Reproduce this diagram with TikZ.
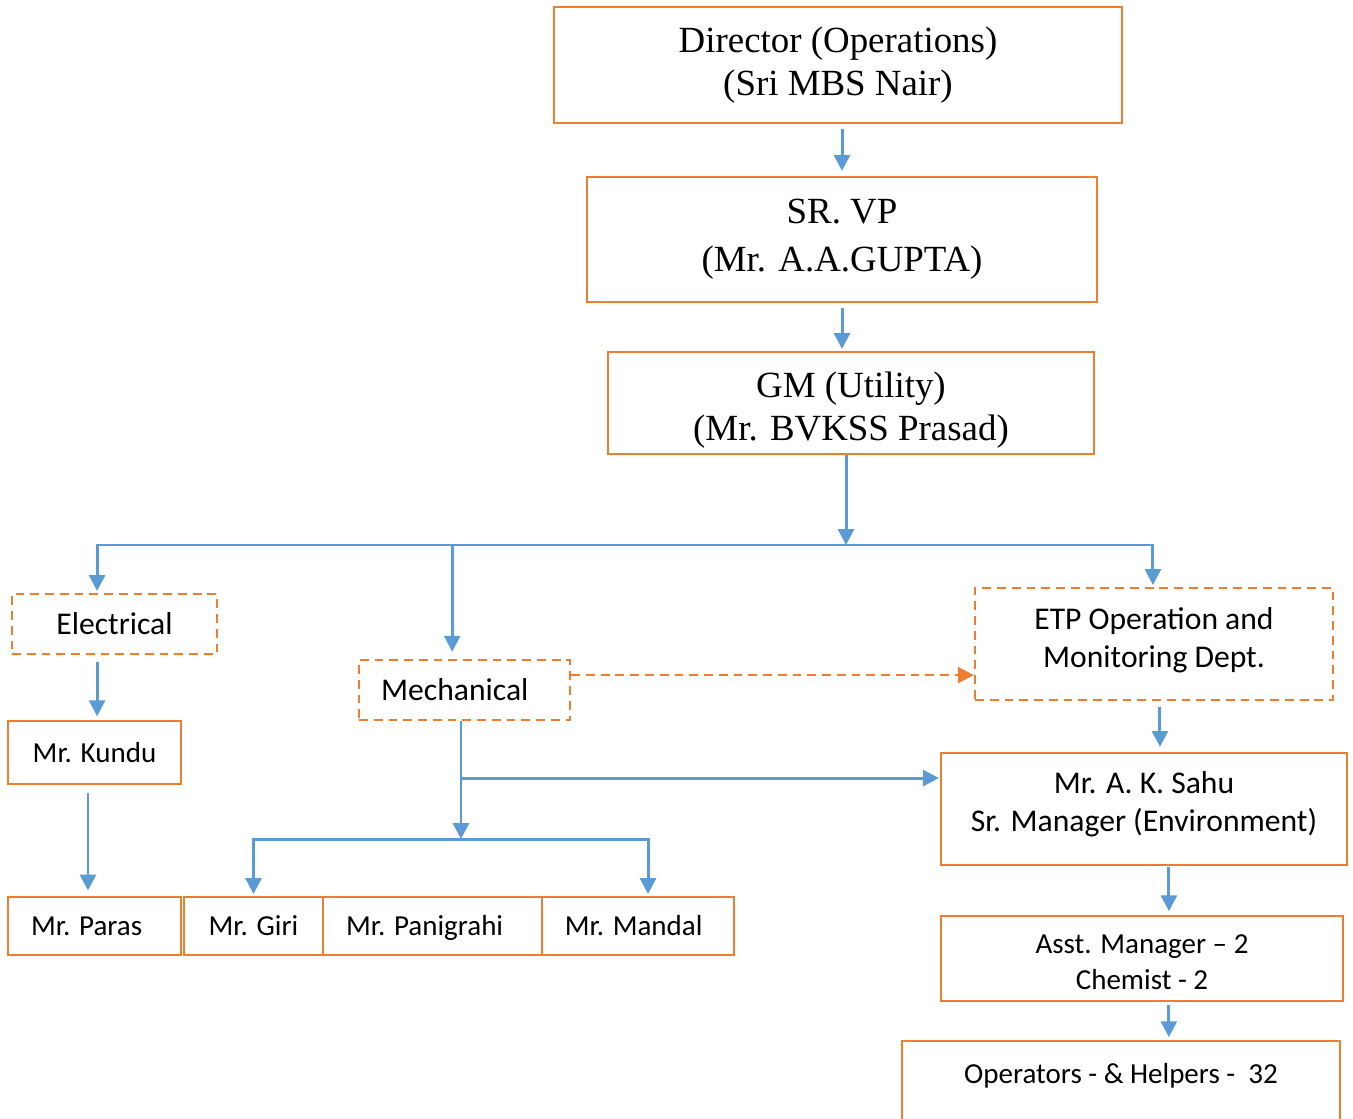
\documentclass[tikz,border=0pt]{standalone}
\usepackage{fontspec}
\setmainfont{Liberation Serif}
\newfontfamily\calibri{Carlito}
\usepackage{tikz}
\usetikzlibrary{arrows.meta}
\definecolor{boxorange}{HTML}{ED7D31}
\definecolor{lineblue}{HTML}{5B9BD5}
% move a block of lines up or down inside its box
\newcommand\nudge[2]{\raisebox{#1}[\height][\depth]{\begin{tabular}{@{}c@{}}#2\end{tabular}}}
\tikzset{
	box/.style={draw=boxorange, line width=1.4pt, rectangle, align=center, inner sep=2pt},
	dbox/.style={box, dash pattern=on 5pt off 3.4pt},
	serifbig/.style={font={\fontsize{21}{24.4}\selectfont}},
	calbig/.style={font={\calibri\fontsize{18}{21.7}\selectfont}},
	calsmall/.style={font={\calibri\fontsize{16.5}{20.4}\selectfont}},
	namebox/.style={box, calsmall, text height=13pt, text depth=2pt},
	arr/.style={draw=lineblue, line width=1.7pt, -{Triangle[length=9pt, width=9pt]}},
	darr/.style={draw=boxorange, line width=1.4pt, dash pattern=on 5pt off 3.4pt, -{Triangle[length=9pt, width=9pt]}}
}

\begin{document}
\begin{tikzpicture}[x=0.02cm, y=-0.02cm]
		%%%%% START %%%%%
		\useasboundingbox (0, 0) rectangle (1353, 1119);
		\clip (0, 0) rectangle (1353, 1119);
		
		\node[box, serifbig, minimum width=11.36cm, minimum height=2.32cm] (dir) at (838, 65) {Director (Operations)\\(Sri MBS Nair)};
		\node[box, font={\fontsize{21}{27.2}\selectfont}, minimum width=10.2cm, minimum height=2.5cm] (vp) at (842, 239.5) {SR. VP\\(Mr. A.A.GUPTA)};
		\node[box, serifbig, minimum width=9.72cm, minimum height=2.04cm] (gm) at (851, 403) {\nudge{-4pt}{GM (Utility)\\(Mr. BVKSS Prasad)}};
		
		\node[dbox, calbig, minimum width=4.1cm, minimum height=1.2cm] (elec) at (114.5, 624) {Electrical};
		\node[dbox, calbig, minimum width=4.22cm, minimum height=1.2cm] (mech) at (464.5, 690) {Mechanical\hspace*{11pt}};
		\node[dbox, calbig, minimum width=7.16cm, minimum height=2.24cm] (etp) at (1154, 644) {\nudge{1.7pt}{ETP Operation and\\Monitoring Dept.}};
		
		\node[namebox, minimum width=3.46cm, minimum height=1.26cm] (kundu) at (94.5, 752.5) {Mr. Kundu};
		\node[namebox, minimum width=3.46cm, minimum height=1.16cm] (paras) at (94.5, 926) {Mr. Paras\hspace*{9pt}};
		\node[namebox, minimum width=2.78cm, minimum height=1.16cm] (giri) at (253.5, 926) {Mr. Giri};
		\node[namebox, minimum width=4.38cm, minimum height=1.16cm] (pani) at (432.5, 926) {Mr. Panigrahi\hspace*{9pt}};
		\node[namebox, minimum width=3.84cm, minimum height=1.16cm] (mandal) at (638, 926) {Mr. Mandal\hspace*{5pt}};
		
		\node[box, calbig, minimum width=8.12cm, minimum height=2.24cm] (sahu) at (1144, 809) {\nudge{2.3pt}{Mr. A. K. Sahu\\Sr. Manager (Environment)}};
		\node[box, calsmall, minimum width=8.04cm, minimum height=1.7cm] (asst) at (1142, 958.5) {\nudge{-3.4pt}{Asst. Manager – 2\\Chemist - 2}};
		\node[box, calsmall, minimum width=8.76cm, minimum height=1.92cm] (ops) at (1121, 1089) {\nudge{-2.8pt}{Operators - \& Helpers -~~32\\\strut}};
		
		% top chain
		\draw[arr, shorten <=3pt, shorten >=2.8pt] (vp.north |- dir.south) -- (vp.north);
		\draw[arr, shorten <=3pt, shorten >=1pt] (vp.south) -- (vp.south |- gm.north);
		
		% main bus
		\coordinate (bus) at (846, 545);
		\coordinate (mechin) at ([xshift=-7pt]mech.north);
		\draw[arr] (gm.south -| bus) -- (bus);
		\draw[arr, shorten >=1pt] (bus) -| ([xshift=-9.9pt]elec.north);
		\draw[arr, shorten >=1pt] (bus) -| ([xshift=-0.6pt]etp.north);
		\draw[arr, shorten >=4pt] (bus -| mechin) -- (mechin);
		
		% electrical
		\draw[arr, shorten <=4pt, shorten >=2pt] ([xshift=-9.9pt]elec.south) -- ([xshift=-9.9pt]elec.south |- kundu.north);
		\draw[arr, shorten <=4.5pt, shorten >=3pt] ([xshift=-3.7pt]kundu.south) -- ([xshift=-3.7pt]paras.north);
		
		% mechanical
		\draw[darr] ([yshift=8.5pt]mech.east) -- ([yshift=8.5pt]mech.east -| etp.west);
		\coordinate (fork) at (461, 839);
		\draw[arr] (mech.south -| fork) -- (fork);
		\draw[arr, shorten >=0.5pt] (mech.south -| fork) |- ([yshift=17.6pt]sahu.west);
		\draw[arr, shorten >=1pt] (fork) -| (giri.north);
		\draw[arr, shorten >=1pt] (fork) -| ([xshift=5.7pt]mandal.north);
		
		% ETP chain
		\draw[arr, shorten <=3.4pt, shorten >=2.8pt] ([xshift=3.4pt]etp.south) -- ([xshift=3.4pt]etp.south |- sahu.north);
		\draw[arr, shorten <=0.5pt, shorten >=2pt] ([xshift=14.2pt]sahu.south) -- ([xshift=14.2pt]sahu.south |- asst.north);
		\draw[arr, shorten <=1.5pt, shorten >=1.5pt] ([xshift=15.3pt]asst.south) -- ([xshift=15.3pt]asst.south |- ops.north);
		
		%%%%% END %%%%%
	\end{tikzpicture}
\end{document}
